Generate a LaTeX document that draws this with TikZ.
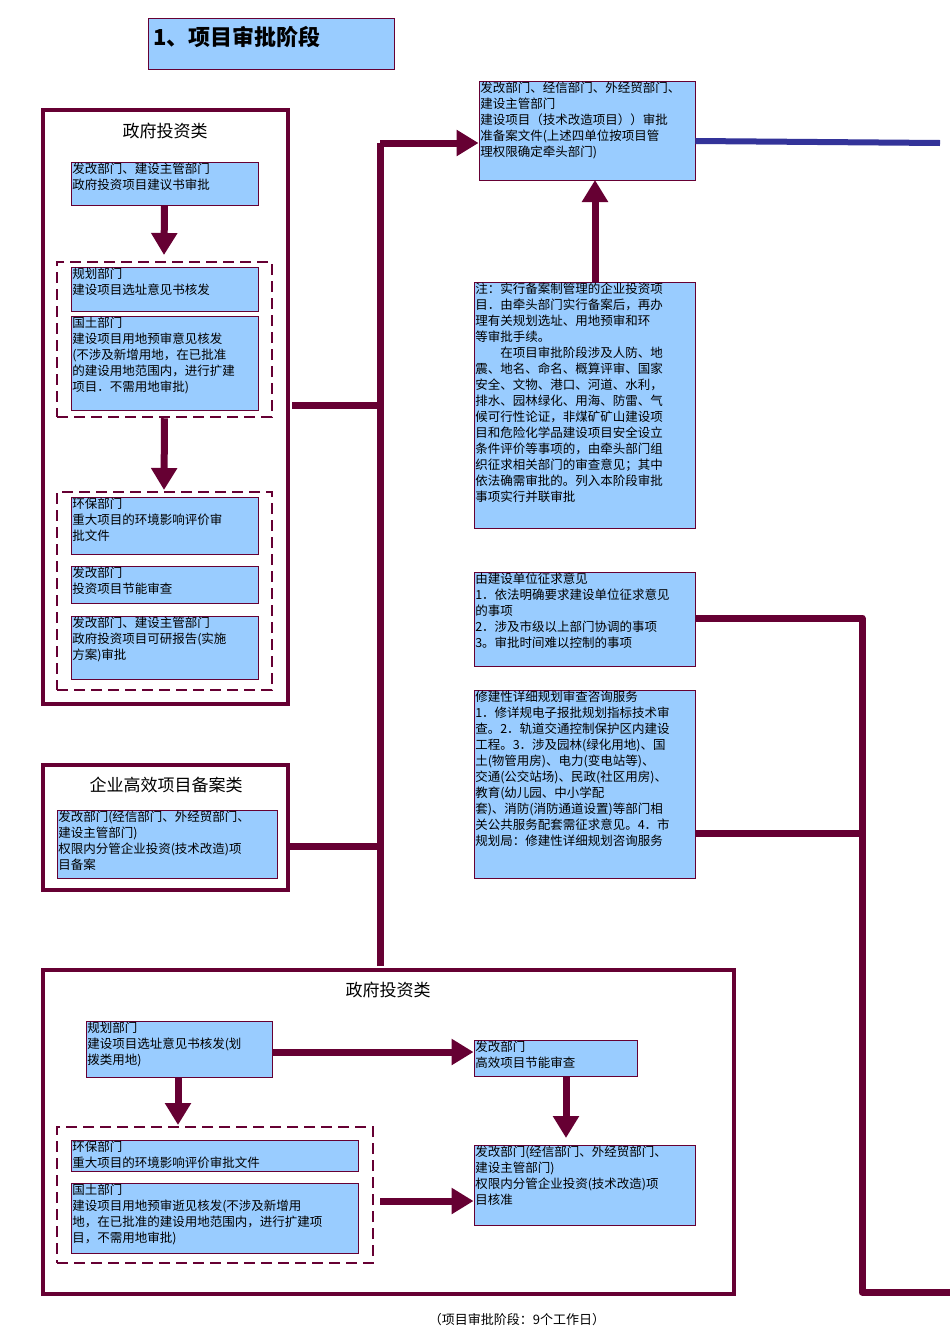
\documentclass[tikz,border=0pt]{standalone}
\usepackage{fontspec}
\setmainfont{Noto Sans CJK SC}
\usetikzlibrary{arrows.meta}
\definecolor{mar}{HTML}{660033}
\definecolor{bl}{HTML}{99CCFF}
\definecolor{nv}{HTML}{333399}
\newcommand\fs{\fontsize{12.5}{16}\selectfont}
\newcommand\mybx[6]{%
  \node[rectbox, minimum width={(#4-#2)*1pt}, minimum height={(#5-#3)*1pt}] (#1) at ({(#2+#4)/2},{(#3+#5)/2}) {};
  \node[txt] at (#1.north west) {#6};}
\newcommand\myouter[5]{%
  \node[outerbox, minimum width={(#4-#2)*1pt}, minimum height={(#5-#3)*1pt}] (#1) at ({(#2+#4)/2},{(#3+#5)/2}) {};}
\newcommand\mydash[5]{%
  \node[dashbox, minimum width={(#4-#2)*1pt}, minimum height={(#5-#3)*1pt}] (#1) at ({(#2+#4)/2},{(#3+#5)/2}) {};}
\tikzset{
  rectbox/.style={draw=mar, fill=bl, line width=0.9pt, inner sep=0pt},
  txt/.style={anchor=north west, align=left, inner sep=1.5pt, font=\fs, text=black},
  outerbox/.style={draw=mar, line width=4pt, inner sep=0pt},
  dashbox/.style={draw=mar, line width=2.5pt, dash pattern=on 11pt off 6pt, inner sep=0pt},
  conn/.style={draw=mar, line width=7pt},
  arr/.style={conn, -{Triangle[width=25pt,length=22pt]}},
  ttl/.style={font=\fontsize{17}{20}\selectfont, text=black},
}
\begin{document}
\begin{tikzpicture}[x=1pt,y=-1pt]
\useasboundingbox (0,0) rectangle (950,1344);
% title
\mybx{title}{148}{18}{394}{69}{}
\node[anchor=west, font=\fontsize{22}{24}\selectfont\bfseries] (titletext) at (150,37) {1、项目审批阶段};
% first outer group
\myouter{g1}{43}{110}{288}{704}
\node[ttl] (g1t) at (165,131) {政府投资类};
\mybx{a}{71}{162}{258}{205}{发改部门、建设主管部门\\政府投资项目建议书审批}
\mydash{d1}{57}{262}{272}{417}
\mybx{b}{71}{267}{258}{311}{规划部门\\建设项目选址意见书核发}
\mybx{c}{71}{316}{258}{410}{国土部门\\建设项目用地预审意见核发\\(不涉及新增用地，在已批准\\的建设用地范围内，进行扩建\\项目．不需用地审批)}
\mydash{d2}{57}{492}{272}{690}
\mybx{d}{71}{497}{258}{554}{环保部门\\重大项目的环境影响评价审\\批文件}
\mybx{e}{71}{566}{258}{603}{发改部门\\投资项目节能审查}
\mybx{f}{71}{616}{258}{679}{发改部门、建设主管部门\\政府投资项目可研报告(实施\\方案)审批}
\draw[arr] (a.south) -- (164,255);
\draw[arr] (d1.south) -- (164,490);
% second group
\myouter{g2}{43}{765}{288}{890}
\node[ttl] (g2t) at (166,785) {企业高效项目备案类};
\mybx{j}{57}{810}{277}{878}{发改部门(经信部门、外经贸部门、\\建设主管部门)\\权限内分管企业投资(技术改造)项\\目备案}
% right column
\mybx{g}{479}{81}{695}{180}{发改部门、经信部门、外经贸部门、\\建设主管部门\\建设项目（技术改造项目））审批\\准备案文件(上述四单位按项目管\\理权限确定牵头部门)}
\mybx{note}{474}{282}{695}{528}{注：实行备案制管理的企业投资项\\目．由牵头部门实行备案后，再办\\理有关规划选址、用地预审和环\\等审批手续。\\\hspace*{2em}在项目审批阶段涉及人防、地\\震、地名、命名、概算评审、国家\\安全、文物、港口、河道、水利，\\排水、园林绿化、用海、防雷、气\\候可行性论证，非煤矿矿山建设项\\目和危险化学品建设项目安全设立\\条件评价等事项的，由牵头部门组\\织征求相关部门的审查意见；其中\\依法确需审批的。列入本阶段审批\\事项实行并联审批}
\mybx{h}{474}{572}{695}{666}{由建设单位征求意见\\1．依法明确要求建设单位征求意见\\的事项\\2．涉及市级以上部门协调的事项\\3。审批时间难以控制的事项}
\mybx{i}{474}{690}{695}{878}{修建性详细规划审查咨询服务\\1．修详规电子报批规划指标技术审\\查。2．轨道交通控制保护区内建设\\工程。3．涉及园林(绿化用地)、国\\土(物管用房)、电力(变电站等)、\\交通(公交站场)、民政(社区用房)、\\教育(幼儿园、中小学配\\套)、消防(消防通道设置)等部门相\\关公共服务配套需征求意见。4．市\\规划局：修建性详细规划咨询服务}
% bottom group
\myouter{g3}{43}{970}{734}{1294}
\node[ttl] (g3t) at (388,990) {政府投资类};
\mybx{k}{86}{1021}{272}{1077}{规划部门\\建设项目选址意见书核发(划\\拨类用地)}
\mybx{l}{474}{1040}{637}{1076}{发改部门\\高效项目节能审查}
\mydash{d3}{57}{1127}{373}{1263}
\mybx{m}{71}{1140}{358}{1171}{环保部门\\重大项目的环境影响评价审批文件}
\mybx{n}{71}{1183}{358}{1253}{国土部门\\建设项目用地预审逝见核发(不涉及新增用\\地，在已批准的建设用地范围内，进行扩建项\\目，不需用地审批)}
\mybx{o}{474}{1145}{695}{1225}{发改部门(经信部门、外经贸部门、\\建设主管部门)\\权限内分管企业投资(技术改造)项\\目核准}
\node[font=\fontsize{13}{16}\selectfont] (cap) at (517,1320) {（项目审批阶段：9个工作日）};
% trunk connectors
\coordinate (tTop) at (380,143);
\coordinate (tBot) at (380,966);
\coordinate (tA) at (380,405);
\coordinate (tB) at (380,846);
\draw[conn] (tBot) -- (tTop);
\draw[arr] (tTop) -- (g.west |- tTop);
\draw[conn] (292,405) -- (tA);
\draw[conn] (g2.east |- tB) -- (tB);
\draw[nv, line width=6pt] (g.east |- 0,141) -- (940,143);
\draw[arr] (note.north -| 595,0) -- (595,180);
% right side bus
\coordinate (rA) at (862,618);
\coordinate (rB) at (862,833);
\coordinate (rC) at (862,1292);
\coordinate (rEnd) at (950,1292);
\draw[conn, line join=round] (h.east |- rA) -- (rA) -- (rC) -- (rEnd);
\draw[conn] (i.east |- rB) -- (rB);
% bottom arrows
\draw[arr] (k.east |- 0,1052) -- (l.west |- 0,1052);
\draw[arr] (k.south -| 178,0) -- (178,1125);
\draw[arr] (380,1201) -- (o.west |- 0,1201);
\draw[arr] (l.south -| 566,0) -- (566,1138);
\end{tikzpicture}
\end{document}
